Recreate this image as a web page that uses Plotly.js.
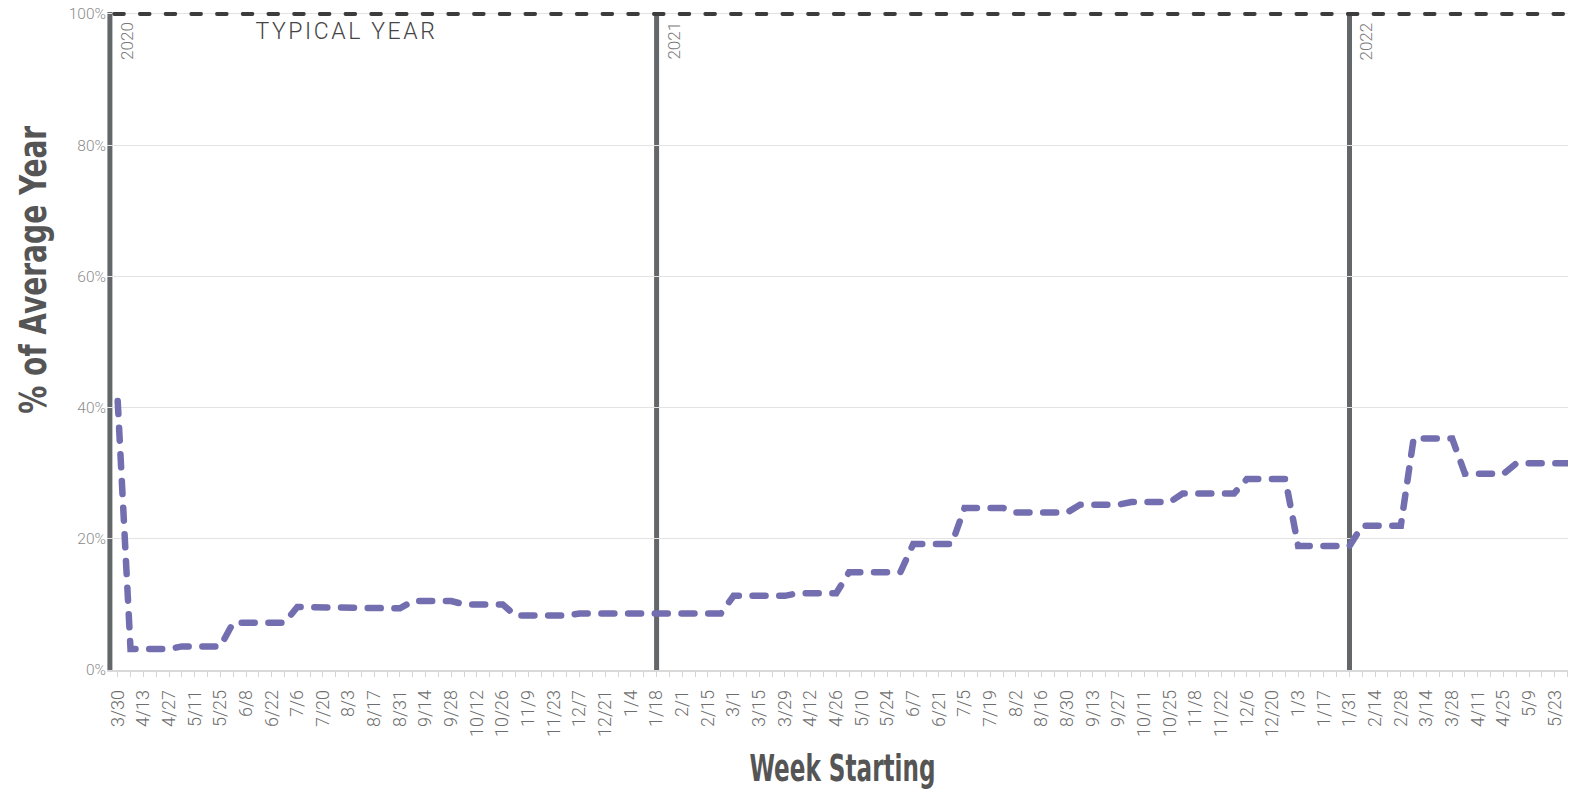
<!DOCTYPE html>
<html>
<head>
<meta charset="utf-8">
<script src="https://cdn.plot.ly/plotly-3.0.1.min.js"></script>
<style>
  html, body { margin: 0; padding: 0; background: #ffffff; }
  #chart { width: 1577px; height: 791px; }
</style>
</head>
<body>
<div id="chart"></div>
<script>
// ---------- DATA ----------
// Weekly series, week starting 3/30/2020 through 5/30/2022 (% of average year)
const FIRST_WEEK = '2020-03-30';
const VALUES = [
  41.0,                         // Mar 2020
  3.2, 3.2, 3.2, 3.2,           // Apr
  3.6, 3.6, 3.6, 3.6,           // May
  7.2, 7.2, 7.2, 7.2, 7.2,      // Jun
  9.6, 9.6, 9.6, 9.6,           // Jul
  9.4, 9.4, 9.4, 9.4, 9.4,      // Aug
  10.5, 10.5, 10.5, 10.5,       // Sep
  10.0, 10.0, 10.0, 10.0,       // Oct
  8.3, 8.3, 8.3, 8.3, 8.3,      // Nov
  8.6, 8.6, 8.6, 8.6,           // Dec
  8.6, 8.6, 8.6, 8.6,           // Jan 2021
  8.6, 8.6, 8.6, 8.6,           // Feb
  11.3, 11.3, 11.3, 11.3, 11.3, // Mar
  11.7, 11.7, 11.7, 11.7,       // Apr
  14.9, 14.9, 14.9, 14.9, 14.9, // May
  19.2, 19.2, 19.2, 19.2,       // Jun
  24.7, 24.7, 24.7, 24.7,       // Jul
  24.0, 24.0, 24.0, 24.0, 24.0, // Aug
  25.2, 25.2, 25.2, 25.2,       // Sep
  25.6, 25.6, 25.6, 25.6,       // Oct
  26.9, 26.9, 26.9, 26.9, 26.9, // Nov
  29.1, 29.1, 29.1, 29.1,       // Dec
  18.9, 18.9, 18.9, 18.9, 18.9, // Jan 2022
  22.0, 22.0, 22.0, 22.0,       // Feb
  35.3, 35.3, 35.3, 35.3,       // Mar
  29.9, 29.9, 29.9, 29.9,       // Apr
  31.5, 31.5, 31.5, 31.5, 31.5  // May
];
const TICK_LABELS = ['3/30','4/13','4/27','5/11','5/25','6/8','6/22','7/6','7/20','8/3','8/17','8/31',
  '9/14','9/28','10/12','10/26','11/9','11/23','12/7','12/21','1/4','1/18','2/1','2/15','3/1','3/15',
  '3/29','4/12','4/26','5/10','5/24','6/7','6/21','7/5','7/19','8/2','8/16','8/30','9/13','9/27',
  '10/11','10/25','11/8','11/22','12/6','12/20','1/3','1/17','1/31','2/14','2/28','3/14','3/28',
  '4/11','4/25','5/9','5/23'];
const Y_TICKS = [0, 20, 40, 60, 80, 100];
const Y_TICK_LABELS = ['0%', '20%', '40%', '60%', '80%', '100%'];
const TYPICAL_YEAR = 100;
const YEAR_LABELS = ['2020', '2021', '2022'];
const YEAR_DATES = ['2020-03-25 18:00', '2021-01-18', '2022-01-31'];
const X_RANGE = ['2020-03-24 04:00', '2022-05-30 05:00'];

// ---------- BUILD ----------
function weekDate(i) {
  const t = Date.parse(FIRST_WEEK + 'T00:00:00Z') + i * 7 * 86400000;
  return new Date(t).toISOString().slice(0, 10);
}
const weeks = VALUES.map((v, i) => weekDate(i));
const tickText = weeks.map((d, i) => (i % 2 === 0 && TICK_LABELS[i / 2]) ? TICK_LABELS[i / 2] : '');

const LIGHT = 'Roboto, "Liberation Sans", Arial, sans-serif';
const COND = '"Liberation Sans Narrow", "DejaVu Sans Condensed", "Arial Narrow", sans-serif';
const BAR = '#63676a';
const Y_TITLE = '% of Average Year';
const X_TITLE = 'Week Starting';

const trace = {
  type: 'scatter', mode: 'lines', x: weeks, y: VALUES,
  line: { color: '#736eaf', width: 6.5, dash: '13px,13.7px' },
  hoverinfo: 'x+y', showlegend: false
};

const shapes = YEAR_DATES.map(d => ({
  type: 'line', xref: 'x', yref: 'paper', x0: d, x1: d, y0: 0, y1: 1,
  line: { color: BAR, width: 5 }, layer: 'between'
}));
shapes.push({
  type: 'line', xref: 'paper', yref: 'y', x0: 0.005, x1: 1, y0: TYPICAL_YEAR, y1: TYPICAL_YEAR,
  line: { color: '#3c3c3c', width: 4, dash: '9.5px,16.2px' }, layer: 'above'
});

const annotations = YEAR_LABELS.map((lab, i) => ({
  text: lab, xref: 'x', yref: 'paper', x: YEAR_DATES[i], y: 1,
  xanchor: 'left', yanchor: 'top', textangle: -90, showarrow: false,
  xshift: 5, yshift: -8,
  font: { family: LIGHT, size: 17, color: '#7a7a7a', weight: 300 }
}));
annotations.push({
  text: 'TYPICAL YEAR', xref: 'paper', yref: 'paper', x: 0.164, y: 0.971,
  xanchor: 'center', yanchor: 'middle', showarrow: false,
  font: { family: LIGHT, size: 23, color: '#444444', weight: 300 }
});
annotations.push({
  text: Y_TITLE, xref: 'paper', yref: 'paper', x: -0.0507, y: 0.609,
  xanchor: 'center', yanchor: 'middle', textangle: -90, showarrow: false,
  font: { family: COND, size: 38, color: '#555555', weight: 700 }
});

const layout = {
  width: 1577, height: 791,
  margin: { l: 107, r: 9, t: 12, b: 121 },
  paper_bgcolor: '#ffffff', plot_bgcolor: '#ffffff',
  font: { family: LIGHT },
  showlegend: false,
  xaxis: {
    type: 'date', range: X_RANGE,
    tickmode: 'array', tickvals: weeks, ticktext: tickText,
    tickangle: -90, ticks: 'outside', ticklen: 5, tickwidth: 1, tickcolor: '#d4d4d4',
    showline: true, linecolor: '#d9d9d9', linewidth: 1.5,
    showgrid: false, zeroline: false,
    tickfont: { family: LIGHT, size: 18, color: '#6e6e6e', weight: 300 },
    ticklabelstandoff: 6,
    title: { text: X_TITLE, standoff: 18,
      font: { family: COND, size: 38, color: '#555555', weight: 700 } }
  },
  yaxis: {
    range: [0, 100.3], tickmode: 'array', tickvals: Y_TICKS, ticktext: Y_TICK_LABELS,
    showgrid: true, gridcolor: '#e3e3e3', gridwidth: 1,
    zeroline: false, showline: false, ticks: '',
    tickfont: { family: LIGHT, size: 15.5, color: '#8c8c8c', weight: 300 }
  },
  shapes: shapes,
  annotations: annotations
};

function squeeze(el, len) {
  el.setAttribute('textLength', len);
  el.setAttribute('lengthAdjust', 'spacingAndGlyphs');
}

function polish() {
  document.querySelectorAll('.scatterlayer .js-line').forEach(p => {
    p.style.strokeLinecap = 'round';
  });
  document.querySelectorAll('.shapelayer path').forEach(p => {
    if ((p.style.strokeDasharray || '') !== '' && p.style.strokeDasharray !== 'none') {
      p.style.strokeLinecap = 'round';
    }
  });
  document.querySelectorAll('.annotation-text').forEach(t => {
    if (t.textContent === 'TYPICAL YEAR') t.style.letterSpacing = '2.6px';
    if (t.textContent === Y_TITLE) squeeze(t, 288);
  });
  document.querySelectorAll('.xtitle').forEach(t => {
    if (t.textContent === X_TITLE) {
      squeeze(t, 186);
      t.setAttribute('transform', 'translate(5,0)');
    }
  });
}

const gd = document.getElementById('chart');
Plotly.newPlot(gd, [trace], layout, { displayModeBar: false, responsive: false }).then(() => {
  polish();
  gd.on('plotly_afterplot', polish);
});
</script>
</body>
</html>
